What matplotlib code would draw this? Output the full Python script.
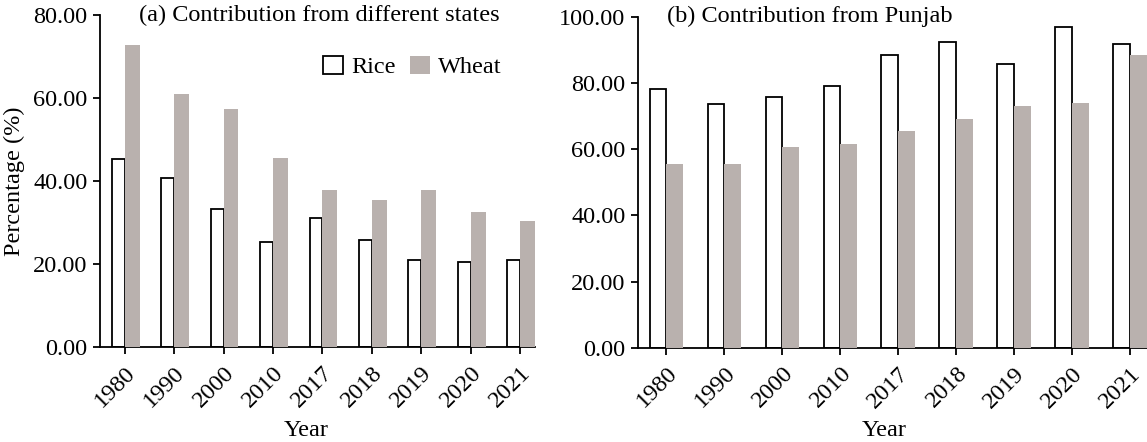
import matplotlib
matplotlib.use("Agg")
import matplotlib.pyplot as plt
from matplotlib.patches import Patch
import numpy as np

years = ["1980", "1990", "2000", "2010", "2017", "2018", "2019", "2020", "2021"]
states_rice = [45.2, 40.8, 33.3, 25.4, 31.2, 25.7, 21.0, 20.6, 21.0]
states_wheat = [72.8, 60.9, 57.3, 45.5, 37.8, 35.4, 37.8, 32.5, 30.4]
punjab_rice = [78.2, 73.6, 75.8, 79.2, 88.3, 92.4, 85.6, 97.0, 91.8]
punjab_wheat = [55.4, 55.4, 60.5, 61.6, 65.6, 69.1, 73.0, 73.8, 88.4]

plt.rcParams['font.family'] = ['Liberation Serif', 'DejaVu Serif']
FS = 17.5
WHEAT = '#b9b1ae'

W, H = 1147, 442
fig = plt.figure(figsize=(W / 100, H / 100), dpi=100)

def px_axes(l, r, t, b):
    return fig.add_axes([l / W, (H - b) / H, (r - l) / W, (b - t) / H])

A_TOP, A_BOT = 15, 347
B_TOP, B_BOT = 16.7, 347.7
axA = px_axes(100, 535, A_TOP, A_BOT)
axB = px_axes(638, 1147, B_TOP, B_BOT)

x = np.arange(len(years))

def style(ax, ymax, xlim, xlab_x, xlab_y):
    ax.set_ylim(0, ymax)
    ax.set_xlim(*xlim)
    ax.set_yticks(np.arange(0, ymax + 1, 20))
    ax.set_yticklabels([f"{v:.2f}" for v in np.arange(0, ymax + 1, 20)], fontsize=FS)
    ax.set_xticks(x)
    ax.set_xticklabels(years, fontsize=FS, rotation=45, ha='right', va='top',
                       rotation_mode='anchor')
    for s in ['top', 'right']:
        ax.spines[s].set_visible(False)
    for s in ['left', 'bottom']:
        ax.spines[s].set_linewidth(1.3)
    ax.tick_params(axis='both', direction='out', length=5, width=1.3, pad=4)
    ax.tick_params(axis='x', pad=6)
    ax.set_xlabel("Year", fontsize=FS, va='top')
    ax.xaxis.set_label_coords(xlab_x, xlab_y, transform=ax.transAxes)

# Panel (a)
axA.bar(x, states_rice, width=-0.26, align='edge', facecolor='white',
        edgecolor='black', linewidth=1.3, zorder=2)
axA.bar(x, states_wheat, width=0.30, align='edge', facecolor=WHEAT,
        edgecolor='none', zorder=3)
style(axA, 80, (-0.5, 8.30), 0.474, -(419.5 - A_BOT) / (A_BOT - A_TOP))
axA.set_ylabel("Percentage (%)", fontsize=FS, labelpad=6)
axA.text(0.09, 1.0, "(a) Contribution from different states", transform=axA.transAxes,
         fontsize=FS, ha='left', va='center')
handles = [Patch(facecolor='white', edgecolor='black', linewidth=1.3, label='Rice'),
           Patch(facecolor=WHEAT, edgecolor='none', label='Wheat')]
axA.legend(handles=handles, loc='center left', bbox_to_anchor=(0.513, 0.843),
           frameon=False, fontsize=FS, ncol=2, borderpad=0, borderaxespad=0,
           handlelength=0.8, handleheight=0.8, handletextpad=0.35,
           columnspacing=0.6)

# Panel (b)
axB.bar(x, punjab_rice, width=-0.29, align='edge', facecolor='white',
        edgecolor='black', linewidth=1.3, zorder=2)
axB.bar(x, punjab_wheat, width=0.29, align='edge', facecolor=WHEAT,
        edgecolor='none', zorder=3)
style(axB, 100, (-0.49, 8.29), 0.483, -(420.5 - B_BOT) / (B_BOT - B_TOP))
axB.text(0.057, 1.0, "(b) Contribution from Punjab", transform=axB.transAxes,
         fontsize=FS, ha='left', va='center')

fig.savefig("out.png", dpi=100)
